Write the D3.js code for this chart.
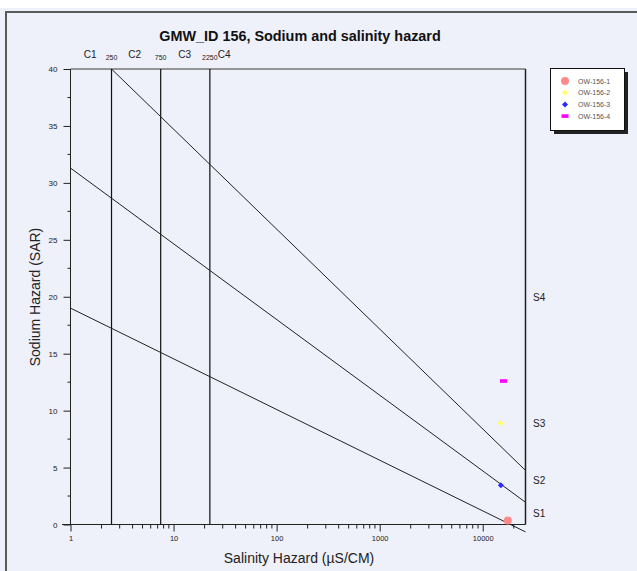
<!DOCTYPE html>
<html><head><meta charset="utf-8">
<script src="https://cdn.jsdelivr.net/npm/d3@7"></script>
<style>
body{margin:0;background:#fff;}
svg{display:block;font-family:"Liberation Sans",Arial,sans-serif;}
</style></head>
<body><svg id="c" width="637" height="571"></svg>
<script>
// ---- data ----
const series = ["OW-156-1","OW-156-2","OW-156-3","OW-156-4"];
const ecValues = [17500, 15000, 15000, 15900];
const sarValues = [0.35, 8.9, 3.45, 12.6];
const seriesColors = ["#ff8a8a","#ffff66","#2a2aff","#ff00ff"];
const seriesShapes = ["circle","diamond","diamond","rect"];
const xTickValues = [1,10,100,1000,10000];
const yTickValues = [0,5,10,15,20,25,30,35,40];
const cBoundaries = [2.5, 7.5, 22.5];
const cBoundaryLabels = ["250","750","2250"];
const cClassLabels = ["C1","C2","C3","C4"];
const cClassPos = [1.55, 4.2, 12.8, 31];
const sLineStartEC = [1, 1, 2.5];
const sLineStartSAR = [19.0, 31.3, 40];
const sLineEndEC = [26000, 26000, 26000];
const sLineEndSAR = [-0.65, 1.95, 4.75];
const sClassLabels = ["S1","S2","S3","S4"];
const sClassPos = [1.0, 3.9, 8.9, 20];
const xDomain = [1, 26000];
const yDomain = [0, 40];

const svg = d3.select("#c");
svg.append("rect").attr("x",0).attr("y",8).attr("width",637).attr("height",563).attr("fill","#eef0fa");
svg.append("rect").attr("x",6).attr("y",12).attr("width",650).attr("height",600)
  .attr("fill","none").attr("stroke","#5a5a5a").attr("stroke-width",2);

const x = d3.scaleLog().domain(xDomain).range([70.5,525.5]);
const y = d3.scaleLinear().domain(yDomain).range([524.5,69]);

// title
svg.append("text").attr("x",300).attr("y",41).attr("text-anchor","middle")
  .attr("font-size",14.4).attr("font-weight","bold").attr("fill","#111").text("GMW_ID 156, Sodium and salinity hazard");

// frame top/right
svg.append("line").attr("x1",70.5).attr("x2",525.5).attr("y1",69).attr("y2",69).attr("stroke","#777").attr("stroke-width",1.5);
svg.append("line").attr("x1",525.5).attr("x2",525.5).attr("y1",69).attr("y2",524.5).attr("stroke","#222").attr("stroke-width",1.5);

// axes
const yMinor = d3.range(2.5,40,5);
const yAxis = d3.axisLeft(y).tickValues(yTickValues).tickSize(7).tickPadding(6).tickFormat(d3.format("d"));
const gy = svg.append("g").attr("transform","translate(70.5,0)").call(yAxis);
gy.selectAll("text").attr("font-size",8).attr("fill","#222").attr("font-family","Liberation Sans, Arial, sans-serif");
gy.selectAll("line,path").attr("stroke","#222");
gy.select(".domain").attr("d","M0,69V524.5");
gy.selectAll(".minor").data(yMinor).enter().append("line").attr("class","minor")
  .attr("x1",-3).attr("x2",0).attr("y1",d=>y(d)).attr("y2",d=>y(d)).attr("stroke","#222");

const xMinor = [];
for (let e=0;e<5;e++) for (let m=2;m<10;m++){const v=m*Math.pow(10,e); if(v<xDomain[1]) xMinor.push(v);}
const xAxis = d3.axisBottom(x).tickValues(xTickValues).tickSize(7).tickPadding(4).tickFormat(d3.format("d"));
const gx = svg.append("g").attr("transform","translate(0,524.5)").call(xAxis);
gx.selectAll("text").attr("font-size",7.5).attr("fill","#222").attr("font-family","Liberation Sans, Arial, sans-serif");
gx.selectAll("line,path").attr("stroke","#222");
gx.select(".domain").attr("d","M62,0H525.5");
gx.selectAll(".minor").data(xMinor).enter().append("line").attr("class","minor")
  .attr("x1",d=>x(d)).attr("x2",d=>x(d)).attr("y1",0).attr("y2",4).attr("stroke","#222");

// axis titles
svg.append("text").attr("x",299).attr("y",563).attr("text-anchor","middle").attr("font-size",14).attr("fill","#222")
  .text("Salinity Hazard (\u00b5S/CM)");
svg.append("text").attr("transform","translate(40,297) rotate(-90)").attr("text-anchor","middle").attr("font-size",14).attr("fill","#222")
  .text("Sodium Hazard (SAR)");

// vertical C boundaries
svg.selectAll(".cb").data(cBoundaries).enter().append("line")
  .attr("x1",d=>x(d)).attr("x2",d=>x(d)).attr("y1",y(40)).attr("y2",y(0)).attr("stroke","#111").attr("stroke-width",1.2);
svg.selectAll(".cbl").data(cBoundaryLabels).enter().append("text")
  .attr("x",(d,i)=>x(cBoundaries[i])).attr("y",60).attr("text-anchor","middle").attr("font-size",7).attr("fill","#222").text(d=>d);
svg.selectAll(".ccl").data(cClassLabels).enter().append("text")
  .attr("x",(d,i)=>x(cClassPos[i])).attr("y",58).attr("text-anchor","middle").attr("font-size",10).attr("fill","#222").text(d=>d);

// S lines
svg.selectAll(".sl").data(sLineStartEC).enter().append("line")
  .attr("x1",(d,i)=>x(d)).attr("y1",(d,i)=>y(sLineStartSAR[i]))
  .attr("x2",(d,i)=>x(sLineEndEC[i])).attr("y2",(d,i)=>y(sLineEndSAR[i]))
  .attr("stroke","#222").attr("stroke-width",1);
svg.selectAll(".scl").data(sClassLabels).enter().append("text")
  .attr("x",533).attr("y",(d,i)=>y(sClassPos[i])+4).attr("font-size",10).attr("fill","#222").text(d=>d);

// points
function marker(g, shape, color, cx, cy){
  if(shape==="circle") g.append("circle").attr("cx",cx).attr("cy",cy).attr("r",4).attr("fill",color);
  else if(shape==="diamond") g.append("path").attr("d",`M${cx},${cy-3}L${cx+3},${cy}L${cx},${cy+3}L${cx-3},${cy}Z`).attr("fill",color);
  else g.append("rect").attr("x",cx-3.5).attr("y",cy-1.8).attr("width",7).attr("height",3.6).attr("fill",color);
}
const gp = svg.append("g");
series.forEach((s,i)=>marker(gp, seriesShapes[i], seriesColors[i], x(ecValues[i]), y(sarValues[i])));

// legend
const lg = svg.append("g");
lg.append("rect").attr("x",554).attr("y",72).attr("width",74).attr("height",62).attr("fill","#222");
lg.append("rect").attr("x",550.5).attr("y",68.5).attr("width",74).attr("height",62).attr("fill","#fff").attr("stroke","#111");
series.forEach((s,i)=>{
  const cy = 81 + i*11.7;
  marker(lg, seriesShapes[i], seriesColors[i], 565, cy);
  lg.append("text").attr("x",578).attr("y",cy+2.5).attr("font-size",7).attr("fill","#555").text(s);
});
</script></body></html>
